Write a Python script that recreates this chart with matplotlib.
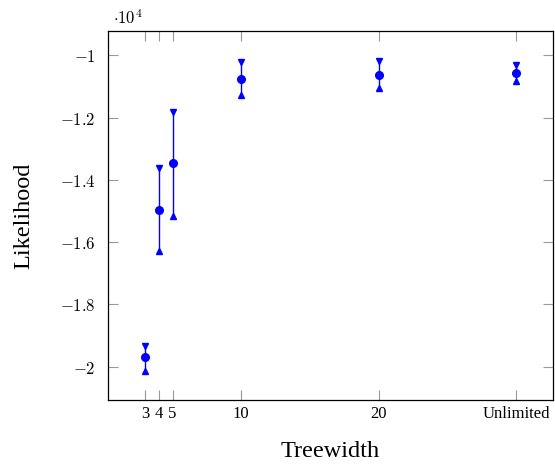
import numpy as np
import matplotlib
matplotlib.use("Agg")
import matplotlib.pyplot as plt

plt.rcParams['mathtext.fontset'] = 'cm'

# data (values in units of 1e4)
treewidth = [3, 4, 5, 10, 20, 30]
tick_labels = ['3', '4', '5', '10', '20', 'Unlimited']
likelihood = [-1.969, -1.498, -1.347, -1.075, -1.063, -1.058]
upper = [-1.932, -1.362, -1.182, -1.0225, -1.018, -1.031]
lower = [-2.0125, -1.629, -1.516, -1.1275, -1.106, -1.0835]

fig = plt.figure(figsize=(5.55, 4.66), dpi=100)
ax = fig.add_axes([0.1946, 0.1416, 0.8018, 0.7919])

x = np.array(treewidth)
y = np.array(likelihood)
up = np.array(upper)
lo = np.array(lower)

ax.errorbar(x, y, yerr=[y - lo, up - y], fmt='o', color='blue', ms=5.5,
            elinewidth=1.0, capsize=0, zorder=3)
ax.plot(x, up, 'v', color='blue', ms=5, zorder=3)
ax.plot(x, lo, '^', color='blue', ms=5, zorder=3)

ax.set_xlim(0.3, 32.7)
ax.set_ylim(-2.107, -0.922)

ax.set_xticks(treewidth)
ax.set_xticklabels(tick_labels, family='Liberation Serif', fontsize=12)
yt = [-2, -1.8, -1.6, -1.4, -1.2, -1]
ax.set_yticks(yt)
ax.set_yticklabels(['$-%g$' % abs(v) for v in yt], fontsize=12)

ax.tick_params(direction='in', length=7, color='#999999', width=0.8,
               top=True, right=True)
ax.tick_params(axis='y', pad=9)
ax.tick_params(axis='x', pad=4)
for s in ax.spines.values():
    s.set_linewidth(0.9)

ax.set_xlabel('Treewidth', family='Liberation Serif', fontsize=17.5, labelpad=14)
ax.set_ylabel('Likelihood', family='Liberation Serif', fontsize=17.5, labelpad=18)
fig.text(0.203, 0.94, r'$\cdot 10^4$', fontsize=12, ha='left', va='bottom')

plt.savefig('out.png', dpi=100)
